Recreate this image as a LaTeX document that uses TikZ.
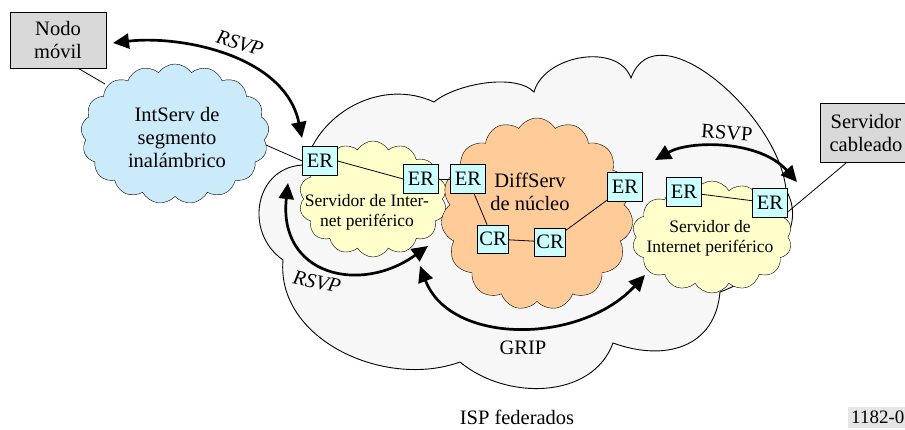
\documentclass[tikz,border=0pt]{standalone}
\usepackage{fontspec}
\setmainfont{Liberation Serif}
\usetikzlibrary{shapes.symbols,arrows.meta,calc}

\definecolor{ispfill}{HTML}{F7F7F7}
\definecolor{wirelessfill}{HTML}{CCEBFA}
\definecolor{edgefill}{HTML}{FFFFCC}
\definecolor{corefill}{HTML}{FFCC99}
\definecolor{routerfill}{HTML}{CCFFFF}
\definecolor{hostfill}{HTML}{D9D9D9}
\definecolor{tagfill}{HTML}{E6E6E6}

\newcommand{\bigfs}{\fontsize{20.5}{23}\selectfont}
\newcommand{\smallfs}{\fontsize{17.5}{20}\selectfont}

\tikzset{
  hostbox/.style={draw, fill=hostfill, align=center, inner sep=0pt, font=\bigfs},
  router/.style={draw, fill=routerfill, minimum width=35, minimum height=29, inner sep=0pt, font=\bigfs},
  netcloud/.style={cloud, draw, cloud ignores aspect, inner sep=0pt},
  wire/.style={line width=0.8pt},
  sigpath/.style={line width=2.7pt, {Triangle[length=16pt,width=15pt]}-{Triangle[length=16pt,width=15pt]}},
  lbl/.style={font=\bigfs, inner sep=0pt, align=center}
}

\begin{document}
\begin{tikzpicture}[x=1pt,y=-1pt]
\useasboundingbox (0,0) rectangle (905,429);

% federated ISP cloud (out/in angles are canvas angles)
\path[draw, fill=ispfill, line width=0.9pt]
  (305,165) to[out=75,in=155] (434,102)
  to[out=40,in=135,looseness=0.7] (534,92)
  to[out=75,in=110] (631,78)
  to[out=70,in=95] (786,190)
  to[out=300,in=20] (720,292)
  to[out=265,in=340,looseness=1.2] (613,343)
  to[out=250,in=320] (460,362)
  to[out=200,in=265] (283,260)
  to[out=145,in=180,looseness=1.3] cycle;

% end hosts
\node[hostbox, minimum width=96, minimum height=56] (mn) at (58,40) {Nodo\\móvil};
\node[hostbox, minimum width=92, minimum height=59] (srv) at (866,132.5) {Servidor\\cableado};

% attachment points on the wireless cloud
\coordinate (wa) at (105,84);
\coordinate (wb) at (266,145);
\draw[wire] ([xshift=20]mn.south) -- (wa);

% domains
\node[netcloud, fill=wirelessfill, cloud puffs=17, cloud puff arc=110,
      minimum width=188, minimum height=140] (intserv) at (175,134) {};
\node[netcloud, fill=edgefill, cloud puffs=14, cloud puff arc=120,
      minimum width=148, minimum height=116] (edgeA) at (373,199) {};
\node[netcloud, fill=corefill, cloud puffs=15, cloud puff arc=120,
      minimum width=192, minimum height=192] (core) at (537,214) {};
\node[netcloud, fill=edgefill, cloud puffs=14, cloud puff arc=120,
      minimum width=160, minimum height=112] (edgeB) at (712,237) {};

\node[lbl] (intservtxt) at (177,137) {IntServ de\\segmento\\inalámbrico};
\node[lbl, font=\smallfs] (edgeAtxt) at (367,212) {Servidor de Inter-\\net periférico};
\node[lbl] (coretxt) at (530,192) {DiffServ\\de núcleo};
\node[lbl, font=\smallfs] (edgeBtxt) at (710,238) {Servidor de\\Internet periférico};

% routers
\node[router] (er1) at (320,161) {ER};
\node[router] (er2) at (421,179) {ER};
\node[router] (er3) at (468,179) {ER};
\node[router] (er4) at (625,187) {ER};
\node[router, minimum width=31, minimum height=28] (cr1) at (493,239) {CR};
\node[router, minimum width=31, minimum height=28] (cr2) at (550,242) {CR};
\node[router] (er5) at (684,192) {ER};
\node[router] (er6) at (770,203) {ER};

% links
\draw[wire] (wb) -- (er1.west);
\draw[wire] (er1.east) -- (er2.west);
\draw[wire] (er2.east) -- (er3.west);
\draw[wire] (er3) -- (cr1);
\draw[wire] (cr1) -- (cr2);
\draw[wire] (cr2) -- (er4);
\draw[wire] (er5) -- (er6);
\draw[wire] ([yshift=-9]er6.east) -- ([xshift=-19]srv.south);

% signalling paths
\coordinate (s1a) at (113,43);  \coordinate (s1b) at (302,138);
\coordinate (s2a) at (655,160); \coordinate (s2b) at (797,182);
\coordinate (s3a) at (288,183); \coordinate (s3b) at (428,246);
\coordinate (s4a) at (420,266); \coordinate (s4b) at (645,275);
\draw[sigpath] (s1a) .. controls (180,35) and (285,55) .. (s1b);
\draw[sigpath] (s2a) .. controls (690,140) and (760,140) .. (s2b);
\draw[sigpath] (s3a) .. controls (278,275) and (360,295) .. (s3b);
\draw[sigpath] (s4a) .. controls (450,345) and (580,345) .. (s4b);

% labels
\node[lbl, font=\bigfs\itshape, rotate=-17] (l1) at (240,43) {RSVP};
\node[lbl, rotate=-4] (l2) at (727,133) {RSVP};
\node[lbl, font=\bigfs\itshape, rotate=-12] (l3) at (317,282) {RSVP};
\node[lbl] (l4) at (523,348) {GRIP};
\node[lbl] (l5) at (517,417) {ISP federados};
\node[anchor=west, fill=tagfill, inner xsep=3pt, inner ysep=0pt, minimum height=21,
      font=\fontsize{19}{21}\selectfont] (tag) at (848,417.5) {1182-06};
\end{tikzpicture}
\end{document}
